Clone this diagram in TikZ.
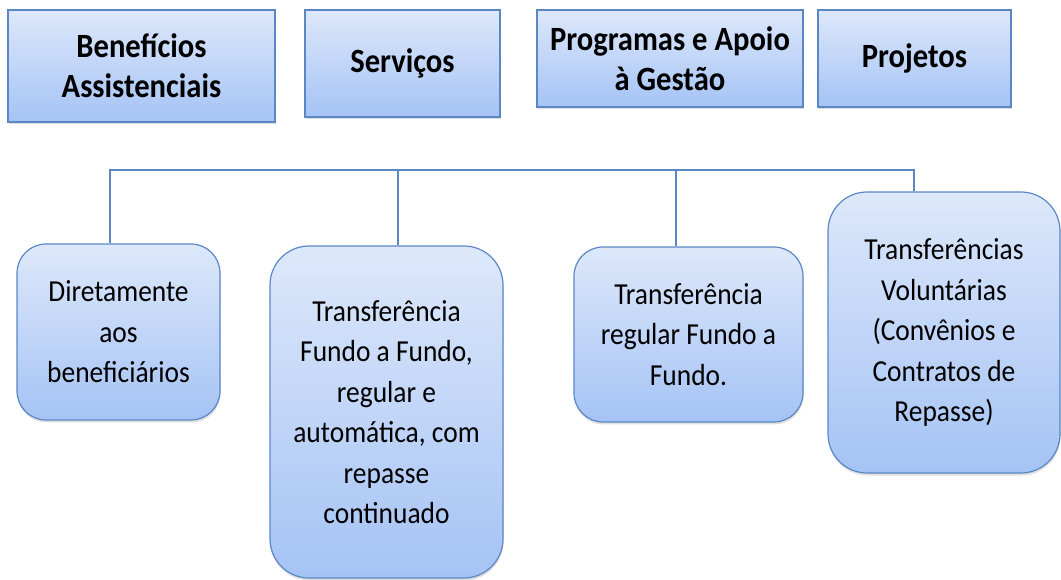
\documentclass[tikz,border=0pt]{standalone}
\usepackage{fontspec}
\setmainfont{Carlito}[FakeStretch=0.9]
\usepackage{tikz}
\usetikzlibrary{shadows}
\definecolor{boxline}{HTML}{5B87C4}
\definecolor{boxtop}{HTML}{DDE8FA}
\definecolor{boxbot}{HTML}{A5C3F5}

\begin{document}
\begin{tikzpicture}[x=1pt,y=1pt,
  topbox/.style={draw=boxline,line width=1.2pt,top color=boxtop,bottom color=boxbot,
    align=center,inner sep=0pt,font=\fontsize{34}{40}\selectfont\bfseries,
    drop shadow={shadow xshift=0.5pt,shadow yshift=-2.5pt,opacity=0.25}},
  lowbox/.style={topbox,font=\fontsize{30.5}{40.5}\selectfont},
  link/.style={draw=boxline,line width=1.6pt}]
\useasboundingbox (0,0) rectangle (1061,579);
% top row
\node[topbox,minimum width=267pt,minimum height=112pt] (ben) at (141.5,513) {Benefícios\\Assistenciais};
\node[topbox,minimum width=195pt,minimum height=107pt] (serv) at (402.5,515.5) {Serviços};
\node[topbox,minimum width=266pt,minimum height=97pt] (prog) at (670,520.5) {Programas e Apoio\\à Gestão};
\node[topbox,minimum width=193pt,minimum height=97pt] (proj) at (914.5,520.5) {Projetos};
% bottom row
\node[lowbox,rounded corners=29pt,minimum width=203pt,minimum height=176pt] (dir) at (118.5,247) {Diretamente\\aos\\beneficiários};
\node[lowbox,rounded corners=39pt,minimum width=233pt,minimum height=332pt] (ff) at (386.5,167) {Transferência\\Fundo a Fundo,\\regular e\\automática, com\\repasse\\continuado};
\node[lowbox,rounded corners=29pt,minimum width=229pt,minimum height=175pt] (reg) at (688.5,244.5) {Transferência\\regular Fundo a\\Fundo.};
\node[lowbox,rounded corners=39pt,minimum width=232pt,minimum height=281pt] (vol) at (944,246.5) {Transferências\\Voluntárias\\(Convênios e\\Contratos de\\Repasse)};
% connectors
\coordinate (bus) at (0,409);
\coordinate (j1) at ([xshift=-8.5pt]dir.north);
\coordinate (j2) at ([xshift=11.5pt]ff.north);
\coordinate (j3) at ([xshift=-12.5pt]reg.north);
\coordinate (j4) at ([xshift=-30pt]vol.north);
\draw[link] (j1) -- (j1 |- bus) -- (j4 |- bus) -- (j4);
\draw[link] (j2) -- (j2 |- bus);
\draw[link] (j3) -- (j3 |- bus);
\end{tikzpicture}
\end{document}
